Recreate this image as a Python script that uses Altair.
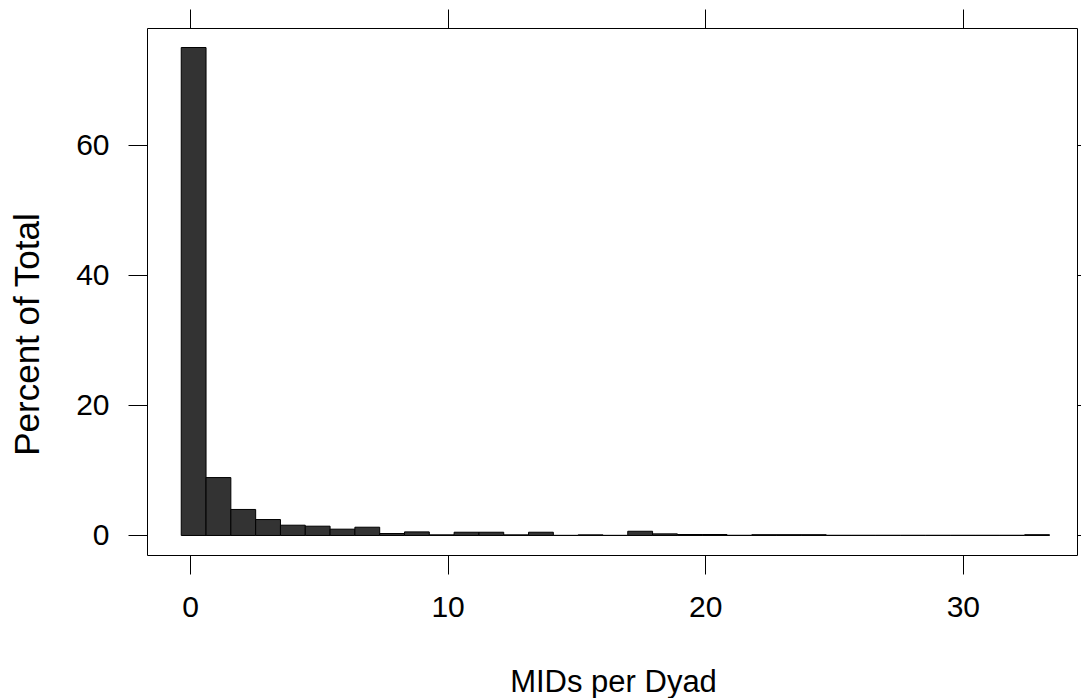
import altair as alt
import pandas as pd

# Histogram of MIDs per Dyad (lattice-style)
bin_start0 = -0.34
bin_width = 0.9629
percent = [75.0, 8.9, 4.0, 2.45, 1.58, 1.43, 0.97, 1.27, 0.3, 0.55,
           0.1, 0.5, 0.5, 0.1, 0.5, 0.02, 0.1, 0.02, 0.65, 0.25,
           0.15, 0.15, 0.03, 0.12, 0.12, 0.12, 0.03, 0.03, 0.03, 0.03,
           0.03, 0.03, 0.03, 0.03, 0.12]
x_ticks = [0, 10, 20, 30]
y_ticks = [0, 20, 40, 60]
x_domain = [-1.669, 34.43]
y_domain = [-3.0, 78.0]

df = pd.DataFrame({
    "start": [bin_start0 + i * bin_width for i in range(len(percent))],
    "end": [bin_start0 + (i + 1) * bin_width for i in range(len(percent))],
    "pct": percent,
})

FONT = "Liberation Sans"
FS = 30
XTFS = 31
YTFS = 35

xscale = alt.Scale(domain=x_domain, nice=False, zero=False)
yscale = alt.Scale(domain=y_domain, nice=False, zero=False)

base = alt.Chart(df)

bars = base.mark_bar(fill="#333333", stroke="#000000", strokeWidth=1).encode(
    x=alt.X("start:Q", scale=xscale,
            axis=alt.Axis(orient="bottom", values=x_ticks, title="MIDs per Dyad",
                          grid=False, domain=False, tickSize=19, tickColor="#000000",
                          labelFontSize=FS, labelFont=FONT, labelColor="#000000",
                          labelPadding=18, titleFontSize=XTFS, titleFont=FONT,
                          titleFontWeight="normal", titleColor="#000000",
                          titleX=466, titleY=136, titleBaseline="alphabetic")),
    x2="end:Q",
    y=alt.Y("pct:Q", scale=yscale,
            axis=alt.Axis(orient="left", values=y_ticks, title="Percent of Total",
                          grid=False, domain=False, tickSize=19, tickColor="#000000",
                          labelFontSize=FS, labelFont=FONT, labelColor="#000000",
                          labelPadding=19, titleFontSize=YTFS, titleFont=FONT,
                          titleFontWeight="normal", titleColor="#000000",
                          titleX=-109, titleY=306, titleBaseline="alphabetic")),
    y2=alt.datum(0),
)

mirror = base.mark_bar(opacity=0).encode(
    x=alt.X("start:Q", scale=xscale,
            axis=alt.Axis(orient="top", values=x_ticks, title=None, labels=False,
                          grid=False, domain=False, tickSize=19, tickColor="#000000")),
    x2="end:Q",
    y=alt.Y("pct:Q", scale=yscale,
            axis=alt.Axis(orient="right", values=y_ticks, title=None, labels=False,
                          grid=False, domain=False, tickSize=19, tickColor="#000000")),
    y2=alt.datum(0),
)

chart = alt.layer(bars, mirror).properties(
    width=930, height=527,
    autosize=alt.AutoSizeParams(type="none"),
    padding={"left": 139, "top": 20, "right": 4, "bottom": 160},
).configure(background="white").configure_view(stroke="#000000", strokeWidth=1)

chart.save("out.html", embed_options={"renderer": "svg", "actions": False})
